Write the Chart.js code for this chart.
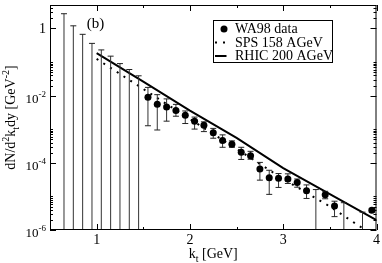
<!DOCTYPE html>
<html>
<head>
<meta charset="utf-8">
<script src="https://cdn.jsdelivr.net/npm/chart.js@4"></script>
<style>
  body { margin: 0; background: #fff; }
</style>
</head>
<body>
<canvas id="chart" width="382" height="263"></canvas>
<script>
  // WA98 data points (k_t in GeV), null = central value off the plot
  const kt = [0.65, 0.75, 0.85, 0.95, 1.05, 1.15, 1.25, 1.35, 1.45, 1.55, 1.65, 1.75, 1.85, 1.95, 2.05, 2.15, 2.25,
              2.35, 2.45, 2.55, 2.65, 2.75, 2.85, 2.95, 3.05, 3.15, 3.25, 3.35, 3.45, 3.55, 3.65, 3.85, 3.95];
  const wa98 = [null, null, null, null, null, null, null, null, null, 8.9e-3, 5.5e-3, 4.6e-3, 3.6e-3, 2.6e-3, 1.73e-3,
                1.31e-3, 7.9e-4, 4.6e-4, 3.6e-4, 2.05e-4, 1.62e-4, 6.5e-5, 3.6e-5, 3.5e-5, 3.3e-5, 2.6e-5, 1.48e-5,
                null, 1.12e-5, 5.2e-6, null, null, 3.85e-6];
  const errHigh = [2.75, 1.2, 0.67, 0.36, 0.23, 0.15, 0.09, 0.06, 0.039, 0.0176, 0.0107, 8.0e-3, 5.5e-3, 3.5e-3, 2.3e-3,
                   1.66e-3, 1.06e-3, 6.8e-4, 4.5e-4, 2.9e-4, 2.2e-4, 1.03e-4, 6.0e-5, 4.8e-5, 4.7e-5, 3.3e-5, 2.2e-5,
                   1.6e-5, 1.42e-5, 7.2e-6, 6.5e-6, 3.4e-6, 4.4e-6];
  // 0 = lower end of the bar is below the axis
  const errLow = [0, 0, 0, 0, 0, 0, 0, 0, 0, 1.27e-3, 9.5e-4, 1.74e-3, 2.44e-3, 1.48e-3, 1.01e-3, 8.5e-4, 5.4e-4,
                  2.9e-4, 2.9e-4, 1.26e-4, 1.28e-4, 3.05e-5, 1.15e-5, 1.85e-5, 2.43e-5, 1.88e-5, 8.7e-6, 0, 8.5e-6,
                  2.5e-6, 0, 0, 3.4e-6];

  // model curves
  const curveKt = [1.0, 1.5, 2.0, 2.5, 3.0, 3.5, 4.0];
  const sps158 = [0.124, 0.0158, 2.0e-3, 2.6e-4, 3.3e-5, 5.0e-6, 6.0e-7];
  const rhic200 = [0.185, 0.0263, 3.6e-3, 5.5e-4, 7.0e-5, 1.17e-5, 1.96e-6];

  const xMajor = [1, 2, 3, 4];
  const xMinor = [1.5, 2.5, 3.5];
  const yMajor = [1, 1e-2, 1e-4, 1e-6];
  const yMajorExp = ['', '-2', '-4', '-6'];
  const yMinor = [2, 3, 4, 5, 0.02, 0.03, 0.04, 0.05, 0.06, 0.07, 0.08, 0.09, 0.1,
                  2e-4, 3e-4, 4e-4, 5e-4, 6e-4, 7e-4, 8e-4, 9e-4, 1e-3,
                  2e-6, 3e-6, 4e-6, 5e-6, 6e-6, 7e-6, 8e-6, 9e-6, 1e-5];

  const serif = '"Liberation Serif", "Times New Roman", serif';

  const points = kt.map((k, i) => ({x: k, y: wa98[i]}));
  const bars = [];
  const caps = [];
  kt.forEach((k, i) => {
    bars.push({x: k, y: errLow[i] || 1e-7}, {x: k, y: errHigh[i]}, {x: k, y: null});
    caps.push({x: k, y: errHigh[i]});
    if (errLow[i]) caps.push({x: k, y: errLow[i]});
  });

  function richText(ctx, parts, x, y, size) {
    let total = 0;
    const widths = parts.map(p => {
      ctx.font = (p[1] ? Math.round(size * 0.7) : size) + 'px ' + serif;
      const w = ctx.measureText(p[0]).width;
      total += w;
      return w;
    });
    let cx = x - total / 2;
    parts.forEach((p, i) => {
      ctx.font = (p[1] ? Math.round(size * 0.7) : size) + 'px ' + serif;
      let dy = 0;
      if (p[1] === 'sup') dy = -size * 0.4;
      if (p[1] === 'sub') dy = size * 0.25;
      ctx.fillText(p[0], cx, y + dy);
      cx += widths[i];
    });
  }

  const decorations = {
    id: 'decorations',
    afterDatasetsDraw(chart) {
      const {ctx, chartArea: a, scales: {x, y}} = chart;
      ctx.save();
      ctx.strokeStyle = '#000';
      ctx.lineWidth = 1;
      ctx.strokeRect(a.left + 0.5, a.top + 0.5, a.right - a.left - 1, a.bottom - a.top - 1);

      ctx.beginPath();
      const xt = (v, len) => {
        const px = Math.round(x.getPixelForValue(v)) + 0.5;
        ctx.moveTo(px, a.bottom); ctx.lineTo(px, a.bottom - len);
        ctx.moveTo(px, a.top); ctx.lineTo(px, a.top + len);
      };
      const yt = (v, len) => {
        const py = Math.round(y.getPixelForValue(v)) + 0.5;
        ctx.moveTo(a.left, py); ctx.lineTo(a.left + len, py);
        ctx.moveTo(a.right, py); ctx.lineTo(a.right - len, py);
      };
      xMajor.forEach(v => xt(v, 6));
      xMinor.forEach(v => xt(v, 3));
      yMajor.forEach(v => yt(v, 6));
      yMinor.forEach(v => yt(v, 3));
      ctx.stroke();

      // y tick labels
      ctx.fillStyle = '#000';
      ctx.textAlign = 'left';
      ctx.textBaseline = 'alphabetic';
      yMajor.forEach((v, i) => {
        const py = y.getPixelForValue(v);
        const right = a.left - 4;
        if (!yMajorExp[i]) {
          ctx.font = '14px ' + serif;
          const w = ctx.measureText('1').width;
          ctx.fillText('1', right - w, py + 5);
          return;
        }
        ctx.font = '9px ' + serif;
        const sw = ctx.measureText(yMajorExp[i]).width;
        ctx.font = '13px ' + serif;
        const bw = ctx.measureText('10').width;
        ctx.fillText('10', right - sw - bw, py + 7);
        ctx.font = '9px ' + serif;
        ctx.fillText(yMajorExp[i], right - sw, py + 1);
      });

      // axis titles
      richText(ctx, [['k', ''], ['t', 'sub'], [' [GeV]', '']], (a.left + a.right) / 2, a.bottom + 28, 14);
      ctx.save();
      ctx.translate(15, (a.top + a.bottom) / 2);
      ctx.rotate(-Math.PI / 2);
      richText(ctx, [['dN/d', ''], ['2', 'sup'], ['k', ''], ['t', 'sub'], ['dy [GeV', ''], ['-2', 'sup'], [']', '']], 0, 0, 14);
      ctx.restore();

      // panel label
      ctx.font = '15px ' + serif;
      ctx.textAlign = 'center';
      ctx.fillText('(b)', a.left + 45.5, a.top + 22.5);

      // legend box
      const bx = a.left + 163.5, by = a.top + 15.5, bw2 = 119, bh = 42;
      ctx.fillStyle = '#fff';
      ctx.fillRect(bx, by, bw2, bh);
      ctx.strokeRect(bx, by, bw2, bh);
      const rows = chart.data.datasets.filter(d => d.inLegend);
      rows.forEach((d, i) => {
        const ry = by + 8.5 + i * 13.5;
        ctx.fillStyle = '#000';
        ctx.strokeStyle = '#000';
        if (d.legendSymbol === 'dot') {
          ctx.beginPath();
          ctx.arc(bx + 10.5, ry, 3.5, 0, Math.PI * 2);
          ctx.fill();
        } else {
          ctx.lineWidth = d.borderWidth;
          ctx.setLineDash(d.borderDash || []);
          ctx.beginPath();
          ctx.moveTo(bx + 1.5, ry);
          ctx.lineTo(bx + (d.borderDash ? 17 : 13), ry);
          ctx.stroke();
          ctx.setLineDash([]);
        }
        ctx.font = '14px ' + serif;
        ctx.textAlign = 'left';
        ctx.textBaseline = 'middle';
        ctx.fillText(d.label, bx + 21.5, ry + 0.5);
      });
      ctx.restore();
    }
  };

  new Chart(document.getElementById('chart'), {
    type: 'line',
    data: {
      datasets: [
        {
          label: 'WA98 data', inLegend: true, legendSymbol: 'dot',
          type: 'scatter', data: points, showLine: false,
          pointRadius: 3.5, pointBackgroundColor: '#000', pointBorderWidth: 0
        },
        {
          label: 'caps', type: 'scatter', data: caps, showLine: false,
          pointStyle: 'line', pointRadius: 3, pointBorderColor: '#222', pointBorderWidth: 1
        },
        {
          label: 'bars', data: bars, borderColor: '#333', borderWidth: 1,
          pointRadius: 0, spanGaps: false
        },
        {
          label: 'SPS 158 AGeV', inLegend: true,
          data: curveKt.map((k, i) => ({x: k, y: sps158[i]})),
          borderColor: '#000', borderWidth: 2, borderDash: [2, 6], pointRadius: 0
        },
        {
          label: 'RHIC 200 AGeV', inLegend: true,
          data: curveKt.map((k, i) => ({x: k, y: rhic200[i]})),
          borderColor: '#000', borderWidth: 2, pointRadius: 0
        }
      ]
    },
    options: {
      responsive: false,
      animation: false,
      events: [],
      layout: { padding: { top: 2, right: 4, left: 0, bottom: 0 } },
      plugins: { legend: { display: false }, tooltip: { enabled: false } },
      scales: {
        x: {
          type: 'linear', min: 0.5, max: 4,
          grid: { display: false, drawTicks: false, tickLength: 0 }, border: { display: false },
          afterBuildTicks: s => { s.ticks = xMajor.map(v => ({value: v})); },
          afterFit: s => { s.height = 33; },
          ticks: {
            color: '#000', padding: 2, maxRotation: 0, autoSkip: false,
            font: { family: serif, size: 14 },
            callback: v => String(v)
          }
        },
        y: {
          type: 'logarithmic', min: 1e-6, max: 5,
          grid: { display: false }, border: { display: false },
          ticks: { display: false },
          afterFit: s => { s.width = 50; }
        }
      }
    },
    plugins: [decorations]
  });
</script>
</body>
</html>
